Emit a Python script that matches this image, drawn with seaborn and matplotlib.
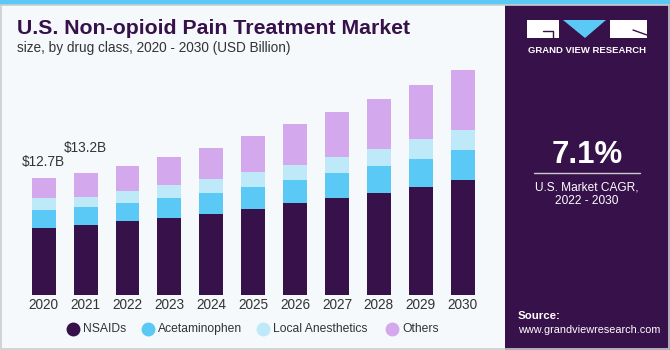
import numpy as np
import pandas as pd
import matplotlib
matplotlib.use("Agg")
import matplotlib.pyplot as plt
import seaborn as sns
from matplotlib.lines import Line2D
from matplotlib.patches import Rectangle, Polygon
from matplotlib.colors import LinearSegmentedColormap

years = ["2020", "2021", "2022", "2023", "2024", "2025", "2026", "2027", "2028", "2029", "2030"]
nsaids = [7.30, 7.62, 7.98, 8.30, 8.80, 9.34, 9.92, 10.50, 11.07, 11.72, 12.41]
acetaminophen = [1.95, 1.86, 2.01, 2.16, 2.24, 2.38, 2.55, 2.71, 2.89, 3.03, 3.31]
local_anesthetics = [1.20, 1.18, 1.30, 1.44, 1.55, 1.62, 1.62, 1.73, 1.84, 2.13, 2.16]
others = [2.25, 2.54, 2.71, 3.00, 3.35, 3.83, 4.37, 4.87, 5.38, 5.84, 6.46]
series_names = ["NSAIDs", "Acetaminophen", "Local Anesthetics", "Others"]
colors = ["#37114a", "#5bc9f5", "#bde9f8", "#d4a8ec"]
annot_labels = ["$12.7B", "$13.2B"]

BG = "#f5f9fc"
PANEL = "#37114a"
NARROW = ["Liberation Sans Narrow", "Liberation Sans", "DejaVu Sans"]

sns.set_theme(style="white")
plt.rcParams["font.family"] = ["Liberation Sans", "DejaVu Sans"]

fig = plt.figure(figsize=(6.7, 3.5), dpi=100)
fig.patch.set_facecolor(BG)

W, H = 670, 350
def fx(x): return x / W
def fy(y): return 1 - y / H

px_per_b = 9.24
ymax = 26
ax_left = 22.75
ax_w = 11 * 41.9
ax_bottom = 295
ax_top = ax_bottom - ymax * px_per_b
ax = fig.add_axes([fx(ax_left), fy(ax_bottom), ax_w / W, (ax_bottom - ax_top) / H])
ax.set_facecolor("none")

df = pd.DataFrame({"year": years, "NSAIDs": nsaids, "Acetaminophen": acetaminophen,
                   "Local Anesthetics": local_anesthetics, "Others": others})
cum = df[series_names].cumsum(axis=1)
for name, col in reversed(list(zip(series_names, colors))):
    sns.barplot(x=df["year"], y=cum[name], color=col, width=0.57, ax=ax,
                saturation=1, linewidth=0, edgecolor=col)

ax.set_xlim(-0.5, 10.5)
ax.set_ylim(0, ymax)
ax.set_xlabel("")
ax.set_ylabel("")
ax.set_yticks([])
for s in ax.spines.values():
    s.set_visible(False)
ax.tick_params(axis="x", length=0, pad=2.5, labelsize=9.8, labelcolor="#333333")

totals = cum["Others"].values
offsets = [1.7, 2.7]
for i, lab in enumerate(annot_labels):
    ax.text(i, totals[i] + offsets[i], lab, ha="center", va="center",
            fontsize=9.8, color="#333333")

# legend (manual placement)
leg_marker_x = [73, 148, 263, 392]
for name, col, mx in zip(series_names, colors, leg_marker_x):
    fig.lines.append(Line2D([fx(mx)], [fy(329)], transform=fig.transFigure, marker="o",
                            markersize=9, markerfacecolor=col, markeredgecolor=col,
                            linestyle=""))
    fig.text(fx(mx + 10), fy(329), name, fontsize=8.7, color="#333333", ha="left",
             va="center")

# title
fig.text(fx(17), fy(28), "U.S. Non-opioid Pain Treatment Market", fontsize=15.3,
         fontweight="bold", color=PANEL, va="center", ha="left", family=NARROW)
fig.text(fx(17), fy(48), "size, by drug class, 2020 - 2030 (USD Billion)", fontsize=9.85,
         color="#333333", va="center", ha="left")

# right panel
fig.patches.append(Rectangle((fx(505), 0), 1 - fx(505), 1, transform=fig.transFigure,
                             facecolor=PANEL, edgecolor="none", zorder=0))
gax = fig.add_axes([fx(505), 0, 1 - fx(505), (350 - 265) / H])
grad = np.linspace(0, 1, 100)[:, None]
cmap = LinearSegmentedColormap.from_list("g", [PANEL, "#434a86", "#4b8fc6", "#58b8e4"])
gax.imshow(grad, aspect="auto", cmap=cmap, origin="upper", extent=[0, 1, 0, 1])
gax.axis("off")

fig.patches.append(Rectangle((0, fy(5)), 1, 5 / H, transform=fig.transFigure,
                             facecolor="#5bc9f5", edgecolor="none", zorder=5))
fig.patches.append(Rectangle((0.001, 0.002), 0.997, fy(5) - 0.002, transform=fig.transFigure,
                             facecolor="none", edgecolor="#cccccc", linewidth=1.2, zorder=5))

# logo
fig.patches.append(Rectangle((fx(527), fy(38)), (559 - 527) / W, 18 / H, transform=fig.transFigure,
                             facecolor="white", edgecolor="none", zorder=6))
fig.patches.append(Rectangle((fx(610), fy(38)), (647 - 610) / W, 18 / H, transform=fig.transFigure,
                             facecolor="white", edgecolor="none", zorder=6))
fig.patches.append(Polygon([(fx(563), fy(20)), (fx(606), fy(20)), (fx(585), fy(38))],
                           closed=True, transform=fig.transFigure, facecolor="#5bc9f5",
                           edgecolor="none", zorder=6))
fig.lines.append(Line2D([fx(543), fx(553), fx(553)], [fy(31), fy(31), fy(38)],
                        transform=fig.transFigure, color=PANEL, linewidth=1, zorder=7))
fig.lines.append(Line2D([fx(633), fx(647)], [fy(30), fy(35)],
                        transform=fig.transFigure, color=PANEL, linewidth=1, zorder=7))
fig.text(fx(587), fy(50.5), "GRAND VIEW RESEARCH", fontsize=6.8, fontweight="bold",
         color="white", ha="center", va="center")

fig.text(fx(587), fy(155), "7.1%", fontsize=22.5, fontweight="bold", color="white",
         ha="center", va="center")
fig.lines.append(Line2D([fx(534), fx(640)], [fy(173), fy(173)], transform=fig.transFigure,
                        color="#cccccc", linewidth=1, zorder=7))
fig.text(fx(587), fy(188), "U.S. Market CAGR,", fontsize=8.6, color="white",
         ha="center", va="center")
fig.text(fx(587), fy(201), "2022 - 2030", fontsize=8.6, color="white",
         ha="center", va="center")
fig.text(fx(518), fy(316), "Source:", fontsize=8.2, fontweight="bold", color="white",
         ha="left", va="center")
fig.text(fx(518), fy(330), "www.grandviewresearch.com", fontsize=7.8, color="white",
         ha="left", va="center")

fig.savefig("out.png", dpi=100, facecolor=BG)
